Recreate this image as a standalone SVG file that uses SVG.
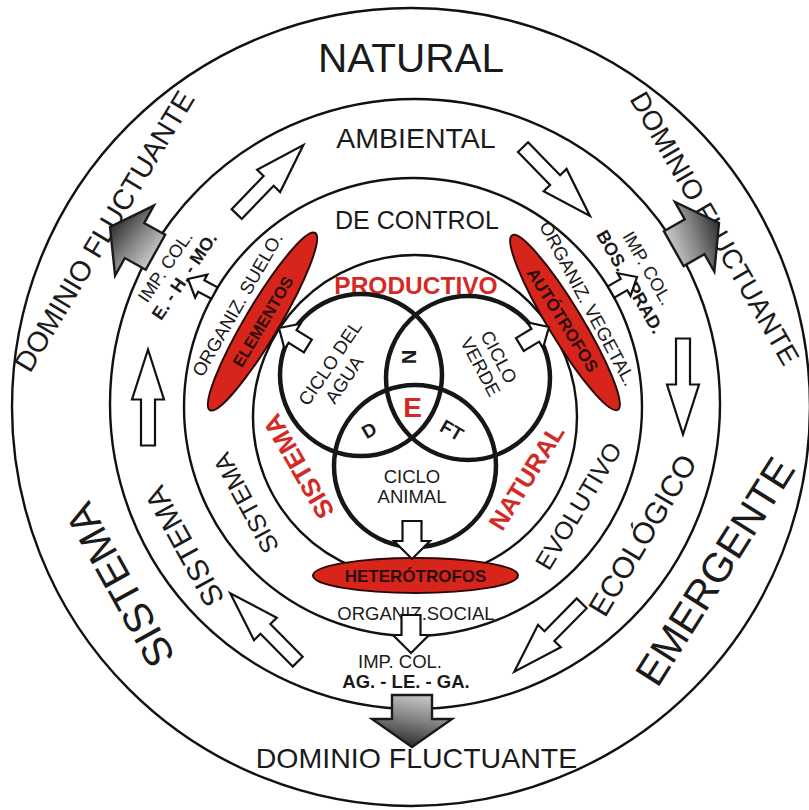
<svg xmlns="http://www.w3.org/2000/svg" width="809" height="810" viewBox="0 0 809 810">
<defs>
<linearGradient id="gray" x1="0" y1="0" x2="1" y2="0.3">
<stop offset="0" stop-color="#d6d6d6"/>
<stop offset="0.55" stop-color="#848484"/>
<stop offset="1" stop-color="#383838"/>
</linearGradient>
<polygon id="bw" points="-48,-7 -2,-7 -2,-16 48,0 -2,16 -2,7 -48,7"/>
<polygon id="sa" points="-38,-9.5 -18,-9.5 -18,-18 0,0 -18,18 -18,9.5 -38,9.5"/>
<polygon id="sb" points="-34,-7.5 -16,-7.5 -16,-15 0,0 -16,15 -16,7.5 -34,7.5"/>
<polygon id="sc" points="-30,-6.5 -15,-6.5 -15,-13 0,0 -15,13 -15,6.5 -30,6.5"/>
<polygon id="ga" points="-52,-20 -28,-20 -28,-40 0,0 -28,40 -28,20 -52,20"/>
</defs>
<style>
.ring{fill:none;stroke:#111;stroke-width:2.4}
.venn{fill:none;stroke:#161616;stroke-width:4.5}
.t{font-family:"Liberation Sans",Arial,sans-serif;fill:#1a1a1a;text-anchor:middle}
.b{font-weight:bold}
.r{fill:#d42a26}
.d{fill:#2b0d0d}
.ell{fill:#d8251c;stroke:#2a0808;stroke-width:2}
.wa{fill:#fff;stroke:#111;stroke-width:2.2}
.gr{fill:url(#gray);stroke:#1a1a1a;stroke-width:2.4}
</style>
<rect width="809" height="810" fill="#fff"/>

<g id="rings">
<circle class="ring" cx="411" cy="407" r="399"/>
<circle class="ring" cx="415" cy="404" r="305"/>
<circle class="ring" cx="413" cy="407" r="229"/>
<circle class="ring" cx="415" cy="417" r="162"/>
</g>

<g id="ring-labels" class="t">
<text id="natural" x="411" y="72" font-size="40.5">NATURAL</text>
<text id="ambiental" x="416" y="148" font-size="28.5">AMBIENTAL</text>
<text id="de-control" x="417" y="229" font-size="25">DE CONTROL</text>
<text id="productivo" class="b r" x="416" y="294" font-size="24.5">PRODUCTIVO</text>
<text id="dominio-bottom" x="416.5" y="768" font-size="28.5">DOMINIO FLUCTUANTE</text>
<text id="dominio-tl" transform="translate(112.7,236.2) rotate(-59)" font-size="28.5">DOMINIO FLUCTUANTE</text>
<text id="dominio-tr" transform="translate(706.5,233) rotate(60)" font-size="27.5">DOMINIO FLUCTUANTE</text>
<text id="sistema-1" transform="translate(132.3,578.4) rotate(-119)" font-size="41">SISTEMA</text>
<text id="sistema-2" transform="translate(193.6,541.5) rotate(-118.8)" font-size="30">SISTEMA</text>
<text id="sistema-3" transform="translate(253.7,499.1) rotate(-118.4)" font-size="25">SISTEMA</text>
<text id="sistema-red" class="b r" transform="translate(306.4,462) rotate(-120)" font-size="26">SISTEMA</text>
<text id="evolutivo" transform="translate(585.9,510.4) rotate(-59)" font-size="25">EVOLUTIVO</text>
<text id="ecologico" transform="translate(651.5,540.5) rotate(-59.2)" font-size="30">ECOLÓGICO</text>
<text id="emergente" transform="translate(726.9,578.9) rotate(-57.7)" font-size="41">EMERGENTE</text>
<text id="natural-red" class="b r" transform="translate(533.8,481.9) rotate(-58)" font-size="25">NATURAL</text>
</g>

<g id="imp-col-tl" class="t" font-size="18" transform="translate(170.4,270.1) rotate(-55.6)">
<text x="0" y="0">IMP. COL.</text>
<text class="b" x="3" y="21">E. - H. - MO.</text>
</g>
<g id="imp-col-tr" class="t" font-size="18" transform="translate(642.4,271.3) rotate(60)">
<text x="0" y="0">IMP. COL.</text>
<text class="b" x="3" y="22">BOS. - PRAD.</text>
</g>
<g id="imp-col-bottom" class="t" font-size="18.5">
<text x="400" y="668">IMP. COL.</text>
<text class="b" x="406" y="688">AG. - LE. - GA.</text>
</g>
<g id="organiz-suelo" class="t"><text transform="translate(243,307.6) rotate(-60)" font-size="18.5">ORGANIZ. SUELO.</text></g>
<g id="organiz-vegetal" class="t"><text transform="translate(582.2,306.6) rotate(61.7)" font-size="18.5">ORGANIZ. VEGETAL.</text></g>
<g id="organiz-social" class="t"><text x="416" y="620" font-size="18.5">ORGANIZ.SOCIAL</text></g>

<g id="venn">
<circle class="venn" cx="361" cy="375" r="81"/>
<circle class="venn" cx="468" cy="378" r="82"/>
<circle class="venn" cx="415" cy="466" r="81"/>
</g>
<g id="ciclo-agua" class="t" font-size="18.5" transform="translate(335.4,366.6) rotate(-56)">
<text x="0" y="0">CICLO DEL</text>
<text x="-6" y="21">AGUA</text>
</g>
<g id="ciclo-verde" class="t" font-size="18.5" transform="translate(493.3,360) rotate(62)">
<text x="0" y="0">CICLO</text>
<text x="0" y="21">VERDE</text>
</g>
<g id="ciclo-animal" class="t" font-size="18.5">
<text x="412" y="483">CICLO</text>
<text x="412" y="503">ANIMAL</text>
</g>
<g id="venn-letters" class="t b">
<text transform="translate(409,357) rotate(90)" y="7" font-size="20">N</text>
<text class="r" x="412.5" y="417" font-size="28">E</text>
<text transform="translate(369,430) rotate(-30)" y="7" font-size="19">D</text>
<text transform="translate(452,430) rotate(30)" y="7" font-size="19">FT</text>
</g>

<g id="elementos">
<ellipse class="ell" cx="262.5" cy="321.5" rx="103" ry="17" transform="rotate(-59.3 262.5 321.5)"/>
<text class="t b d" transform="translate(268,324.6) rotate(-59.3)" font-size="16.5">ELEMENTOS</text>
</g>
<g id="autotrofos">
<ellipse class="ell" cx="565" cy="322.5" rx="102" ry="17" transform="rotate(58.8 565 322.5)"/>
<text class="t b d" transform="translate(557.8,323.1) rotate(58)" font-size="17">AUTÓTROFOS</text>
</g>
<g id="heterotrofos">
<ellipse class="ell" cx="415.5" cy="575.5" rx="102.5" ry="17.5"/>
<text class="t b d" x="415.5" y="581.5" font-size="17">HETERÓTROFOS</text>
</g>

<g id="connectors">
<use href="#bw" class="wa" transform="translate(148,397.5) rotate(-90)"/>
<use href="#bw" class="wa" transform="translate(683,386.5) rotate(90)"/>
<use href="#bw" class="wa" transform="translate(270,179.5) rotate(-46)"/>
<use href="#bw" class="wa" transform="translate(556.5,181.5) rotate(45.8)"/>
<use href="#bw" class="wa" transform="translate(548,637.5) rotate(134.6)"/>
<use href="#bw" class="wa" transform="translate(264,627.5) rotate(-134.6)"/>
<use href="#sa" class="wa" transform="translate(412,559) rotate(90)"/>
<use href="#sa" class="wa" transform="translate(411,653) rotate(90)"/>
<use href="#sb" class="wa" transform="translate(279,328) rotate(-148)"/>
<use href="#sb" class="wa" transform="translate(549,327) rotate(-31)"/>
<use href="#sc" class="wa" transform="translate(188,279) rotate(-152)"/>
<use href="#sc" class="wa" transform="translate(637,277) rotate(-30)"/>
<use href="#ga" class="gr" transform="translate(110,227) rotate(-151)"/>
<use href="#ga" class="gr" transform="translate(719,223) rotate(-29.5)"/>
<use href="#ga" class="gr" transform="translate(412,747) rotate(90)"/>
</g>
</svg>
